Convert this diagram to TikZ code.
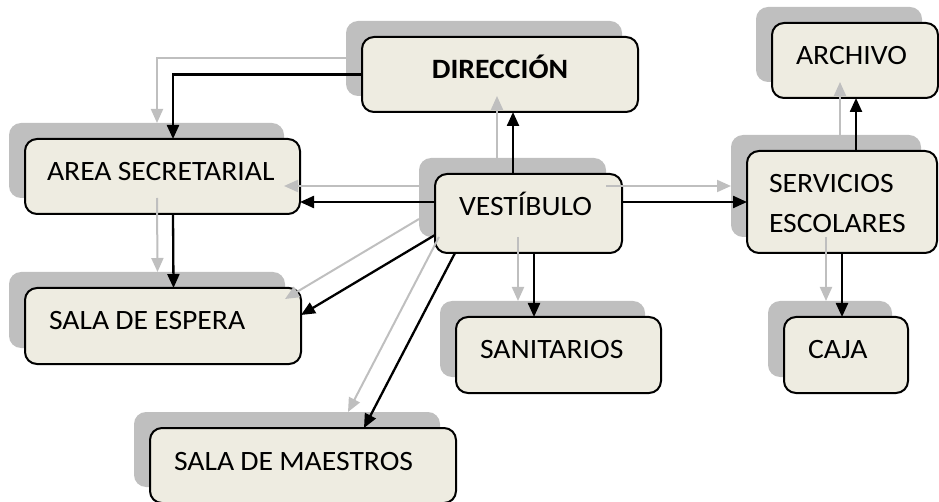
\documentclass[tikz,border=0pt]{standalone}
\usepackage{fontspec}
\setmainfont{Carlito}[FakeStretch=1.06]
\usetikzlibrary{arrows.meta,shadows}
\definecolor{fondo}{HTML}{EEECE1}
\definecolor{sombra}{HTML}{BFBFBF}
\tikzstyle{room}=[draw=black,line width=2pt,fill=fondo,rounded corners=12pt,
                anchor=north west,outer sep=0pt,inner xsep=24pt,inner ysep=0pt,
                text height=42pt,align=left,font=\fontsize{28pt}{40pt}\selectfont,
                execute at begin node={\spaceskip=0.22em\relax},
                copy shadow={shadow xshift=-16pt,shadow yshift=16pt,fill=sombra,draw=none}]
\tikzstyle{link}=[-{Triangle[length=14pt,width=12pt]}]
\tikzstyle{gray link}=[link,color=sombra,line width=2pt]
\tikzstyle{black link}=[link,color=black,line width=2.3pt]
% same arrows for the shadow layer and the front layer
\newcommand{\enlaces}{%
\draw (dir.west) -| ([xshift=10.5pt]sec.north);
\draw ([xshift=-15.5pt]ves.north) -- ([xshift=-15.5pt]ves.north |- dir.south);
\draw ([yshift=11.5pt]ves.west) -- ([yshift=11.5pt]ves.west -| sec.east);
\draw ([yshift=11.5pt]ves.east) -- ([yshift=11.5pt]ves.east -| ser.west);
\draw ([xshift=10.5pt]sec.south) -- ([xshift=10.5pt]esp.north);
\draw ([yshift=-21.5pt]ves.west) -- ([yshift=11pt]esp.east);
\draw ([xshift=20pt]ves.south west) -- ([xshift=61pt]mae.north);
\draw ([xshift=5.5pt]ves.south) -- ([xshift=5.5pt]ves.south |- san.north);
\draw ([xshift=14pt]ser.north) -- ([xshift=14pt]ser.north |- arc.south);
\draw (ser.south) -- (ser.south |- caj.north);
}

\begin{document}
\begin{tikzpicture}[x=1pt,y=-1pt]
\useasboundingbox (0,0) rectangle (939,502);

\node[room,align=center,text width=228pt,text depth=33pt] (dir) at (362,37) {\textbf{DIRECCIÓN}};
\node[room,inner xsep=22pt,text width=231pt,text depth=33pt] (sec) at (25,139) {AREA SECRETARIAL};
\node[room,text width=139pt,text depth=37pt] (ves) at (435,174) {VESTÍBULO};
\node[room,text width=118pt,text depth=33pt] (arc) at (772,23) {ARCHIVO};
\node[room,inner xsep=22pt,text width=146pt,text depth=60pt] (ser) at (747,151) {SERVICIOS\\ESCOLARES};
\node[room,text width=228pt,text depth=34pt] (esp) at (25,288) {SALA DE ESPERA};
\node[room,text width=258pt,text depth=33pt] (mae) at (150,428) {SALA DE MAESTROS};
\node[room,text width=157pt,text depth=34pt] (san) at (456,317) {SANITARIOS};
\node[room,text width=76pt,text depth=34pt] (caj) at (784,317) {CAJA};

\begin{scope}[gray link,transform canvas={shift={(-16,-16)}}]
\enlaces
\end{scope}
\begin{scope}[black link]
\enlaces
\end{scope}
\end{tikzpicture}
\end{document}
